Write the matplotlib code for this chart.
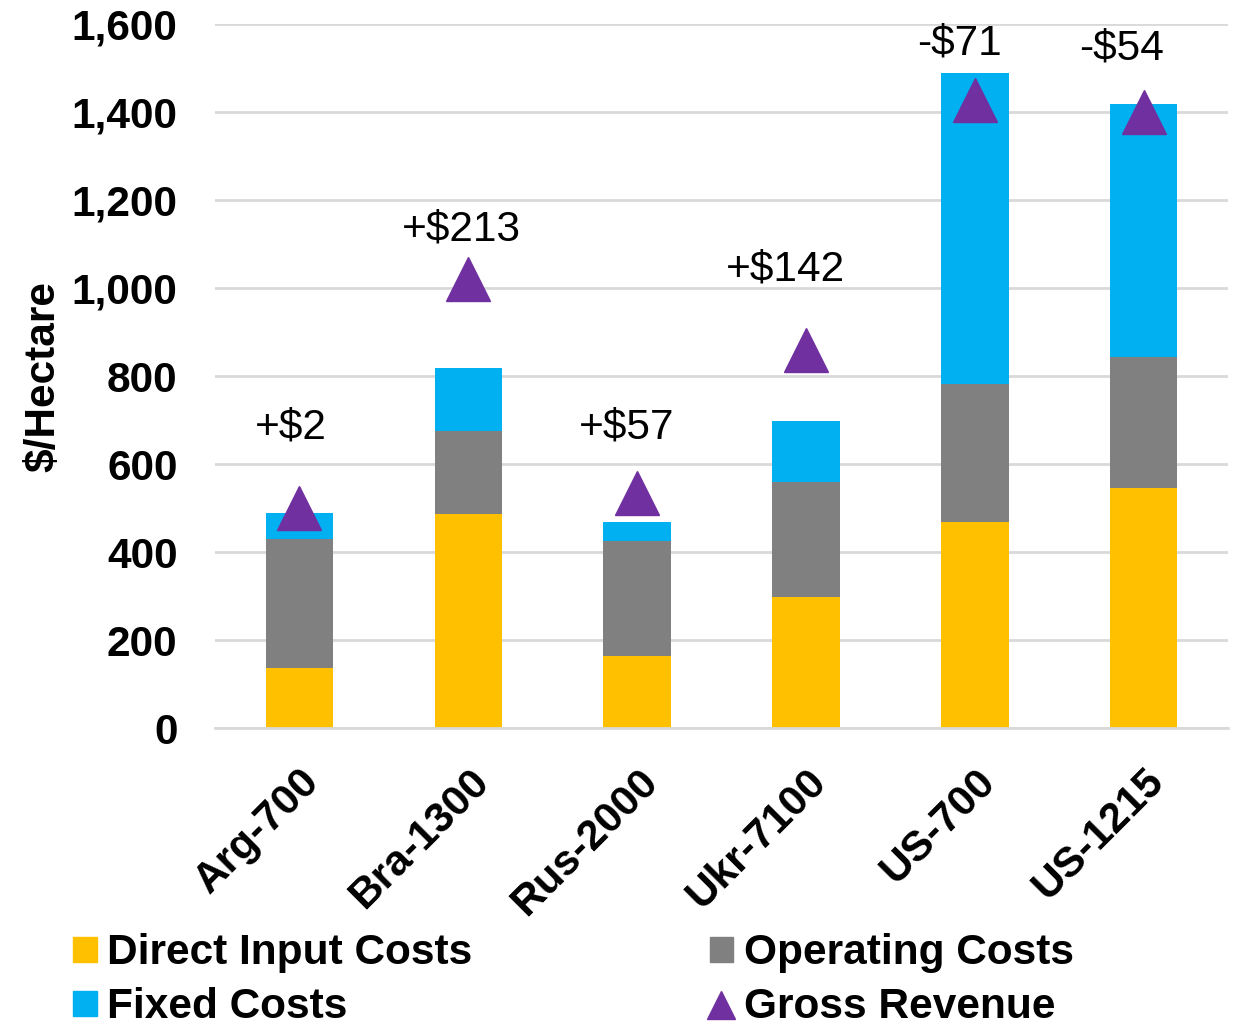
import numpy as np
import matplotlib
matplotlib.use("Agg")
import matplotlib.pyplot as plt
from matplotlib.patches import Patch
from matplotlib.lines import Line2D
from matplotlib.transforms import ScaledTranslation

plt.rcParams['font.family'] = ['Liberation Sans', 'DejaVu Sans']

regions = ["Arg-700", "Bra-1300", "Rus-2000", "Ukr-7100", "US-700", "US-1215"]
direct = [136, 486, 164, 298, 468, 545]
operating = [294, 189, 261, 261, 314, 298]
fixed = [59, 143, 43, 139, 707, 575]
revenue = [499, 1020, 535, 859, 1427, 1399]
labels = ["+$2", "+$213", "+$57", "+$142", "-$71", "-$54"]
label_y = [682, 1132, 682, 1042, 1555, 1544]
label_dx = [-0.05, -0.04, -0.06, -0.12, -0.09, -0.13]

c_direct = "#FFC000"
c_oper = "#808080"
c_fixed = "#00B0F0"
c_rev = "#7030A0"

fs = 30.5

fig = plt.figure(figsize=(12.41, 10.27), dpi=100)
ax = fig.add_axes([0.1733, 0.2911, 0.8162, 0.6855])

x = np.arange(len(regions))
direct = np.array(direct)
operating = np.array(operating)
fixed = np.array(fixed)

w = 0.4
ax.bar(x, direct, w, color=c_direct, zorder=2)
ax.bar(x, operating, w, bottom=direct, color=c_oper, zorder=2)
ax.bar(x, fixed, w, bottom=direct + operating, color=c_fixed, zorder=2)
ax.plot(x, revenue, linestyle="none", marker="^", ms=32, color=c_rev, zorder=3)

for i in range(len(regions)):
    ax.text(x[i] + label_dx[i], label_y[i], labels[i], ha="center", va="center",
            fontsize=fs)

ax.set_xlim(-0.5, 5.5)
ax.set_ylim(0, 1600)
ax.set_yticks(np.arange(0, 1601, 200))
ax.set_yticklabels(["{:,}".format(v) for v in range(0, 1601, 200)],
                   fontsize=fs, fontweight="bold")
ax.set_xticks(x)
ax.set_xticklabels(regions, rotation=45, ha="right", rotation_mode="anchor",
                   fontsize=fs, fontweight="bold")
shift = ScaledTranslation(-0.12, 0, fig.dpi_scale_trans)
for lab in ax.get_xticklabels():
    lab.set_transform(lab.get_transform() + shift)
ax.tick_params(axis="both", length=0)
ax.tick_params(axis="y", pad=27)
ax.tick_params(axis="x", pad=24)
ax.grid(axis="y", color="#d9d9d9", linewidth=2, zorder=0)
for s in ["top", "right", "left"]:
    ax.spines[s].set_visible(False)
ax.spines["bottom"].set_color("#d9d9d9")
ax.spines["bottom"].set_linewidth(2)
ax.set_ylabel("$/Hectare", fontsize=fs, fontweight="bold", labelpad=6)

handles = [
    Patch(color=c_direct, label="Direct Input Costs"),
    Patch(color=c_fixed, label="Fixed Costs"),
    Patch(color=c_oper, label="Operating Costs"),
    Line2D([], [], linestyle="none", marker="^", ms=20, color=c_rev, label="Gross Revenue"),
]
fig.legend(handles=handles, ncol=2, loc="lower left", bbox_to_anchor=(0.042, -0.021),
           frameon=False, prop={"size": fs, "weight": "bold"}, borderpad=0,
           handlelength=0.55, handleheight=0.55, handletextpad=0.25,
           columnspacing=5.6, labelspacing=0.33)

fig.savefig("out.png", dpi=100)
